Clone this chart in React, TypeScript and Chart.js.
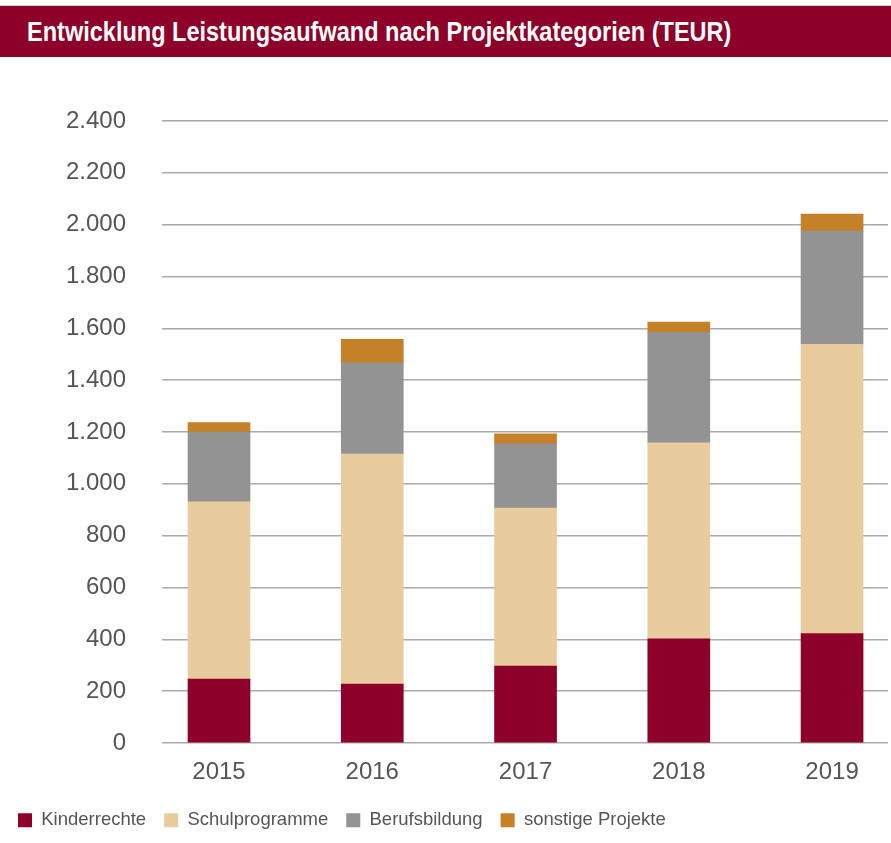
import React, { useEffect, useRef } from "react";
import { Chart, registerables } from "chart.js";

Chart.register(...registerables);

const title = "Entwicklung Leistungsaufwand nach Projektkategorien (TEUR)";
const years = [2015, 2016, 2017, 2018, 2019];
const kinderrechte = [247, 227, 297, 402, 422];
const schulprogramme = [684, 888, 609, 756, 1116];
const berufsbildung = [269, 352, 248, 427, 437];
const sonstige = [36, 91, 39, 39, 66];
const seriesNames = ["Kinderrechte", "Schulprogramme", "Berufsbildung", "sonstige Projekte"];
const seriesColors = ["#8C0029", "#E8CC9D", "#939393", "#C48127"];
const yTicks = [0, 200, 400, 600, 800, 1000, 1200, 1400, 1600, 1800, 2000, 2200, 2400];

const fmt = (v: number) => String(v).replace(/\B(?=(\d{3})+(?!\d))/g, ".");

export default function App() {
  const ref = useRef<HTMLCanvasElement | null>(null);

  useEffect(() => {
    document.body.style.margin = "0";
    const series = [kinderrechte, schulprogramme, berufsbildung, sonstige];
    const chart = new Chart(ref.current as HTMLCanvasElement, {
      type: "bar",
      data: {
        datasets: series.map((vals, i) => ({
          label: seriesNames[i],
          data: vals.map((v, j) => ({ x: years[j], y: v })),
          backgroundColor: seriesColors[i],
          borderWidth: 0,
          barThickness: 62,
        })),
      },
      options: {
        animation: false,
        responsive: false,
        maintainAspectRatio: false,
        layout: { padding: { top: 121, right: 3, left: 0, bottom: 3.5 } },
        plugins: {
          tooltip: { enabled: false },
          legend: {
            position: "bottom",
            align: "start",
            labels: {
              boxWidth: 14,
              boxHeight: 14,
              padding: 18,
              color: "#555555",
              font: { family: "Liberation Sans", size: 18.5 },
            },
          },
        },
        scales: {
          x: {
            type: "linear",
            stacked: true,
            offset: false,
            bounds: "data",
            min: 2014.628,
            max: 2019.365,
            grid: { display: false, drawTicks: false },
            border: { display: false },
            afterBuildTicks: (s: any) => {
              s.ticks = years.map((v) => ({ value: v }));
            },
            afterFit: (s: any) => {
              s.height = 50;
            },
            ticks: {
              padding: 15,
              color: "#555555",
              font: { family: "Liberation Sans", size: 24 },
              callback: (v: any) => String(v),
            },
          },
          y: {
            stacked: true,
            min: 0,
            max: 2400,
            afterBuildTicks: (s: any) => {
              s.ticks = yTicks.map((v) => ({ value: v }));
            },
            afterFit: (s: any) => {
              s.width = 162;
            },
            grid: { color: "#aaaaaa", lineWidth: 1.5, drawTicks: false },
            border: { display: false },
            ticks: {
              padding: 36,
              color: "#555555",
              font: { family: "Liberation Sans", size: 24 },
              callback: (v: any) => fmt(Number(v)),
            },
          },
        },
      },
    });
    return () => chart.destroy();
  }, []);

  return (
    <div style={{ position: "relative", width: 891, height: 843, background: "#fff" }}>
      <canvas ref={ref} width={891} height={843} style={{ position: "absolute", left: 0, top: 0 }} />
      <div
        style={{
          position: "absolute",
          left: 0,
          top: 5,
          width: 891,
          height: 52,
          background: "#8C0029",
          borderTop: "1px solid #d0d0d0",
          color: "#ffffff",
          fontFamily: "'Liberation Sans', sans-serif",
          fontWeight: "bold",
          fontSize: 28,
          lineHeight: "52px",
          paddingLeft: 27,
          boxSizing: "border-box",
          whiteSpace: "nowrap",
          overflow: "hidden",
        }}
      >
        <span style={{ display: "inline-block", transform: "scaleX(0.84)", transformOrigin: "left center" }}>
          {title}
        </span>
      </div>
    </div>
  );
}
